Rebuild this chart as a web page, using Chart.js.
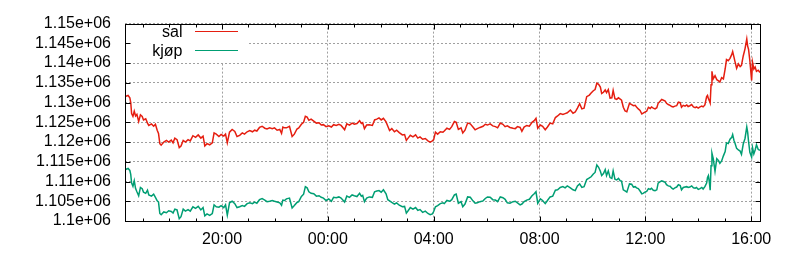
<!DOCTYPE html>
<html>
<head>
<meta charset="utf-8">
<script src="https://cdn.jsdelivr.net/npm/chart.js@4"></script>
<style>
  html, body { margin: 0; padding: 0; background: #fff; }
  #wrap { width: 800px; height: 260px; }
</style>
</head>
<body>
<div id="wrap"><canvas id="chart" width="800" height="260"></canvas></div>
<script>
// readings from 16:20 one day to 16:20 the next (clock wraps at midnight)
const times = [
  "16:20","16:27","16:31","16:33","16:35","16:38","16:41","16:44","16:47","16:51",
  "16:55","16:59","17:02","17:07","17:11","17:14","17:20","17:25","17:29","17:33",
  "17:36","17:39","17:42","17:48","17:54","17:59","18:05","18:09","18:13","18:18",
  "18:23","18:27","18:32","18:37","18:43","18:48","18:54","19:00","19:06","19:12",
  "19:17","19:21","19:26","19:32","19:38","19:42","19:47","19:53","19:58","20:04",
  "20:08","20:12","20:17","20:23","20:29","20:34","20:40","20:46","20:51","20:57",
  "21:03","21:09","21:14","21:19","21:25","21:31","21:37","21:42","21:48","21:54",
  "21:59","22:05","22:11","22:15","22:18","22:22","22:26","22:33","22:39","22:44",
  "22:50","22:54","23:00","23:05","23:09","23:13","23:17","23:22","23:28","23:34",
  "23:40","23:45","23:50","23:56","00:02","00:08","00:13","00:19","00:25","00:30",
  "00:38","00:43","00:49","00:55","01:00","01:06","01:12","01:16","01:19","01:23",
  "01:28","01:34","01:41","01:46","01:51","01:56","02:01","02:06","02:12","02:16",
  "02:20","02:25","02:31","02:36","02:42","02:49","02:54","02:58","03:02","03:07",
  "03:13","03:19","03:24","03:29","03:35","03:41","03:47","03:52","03:57","04:00",
  "04:04","04:09","04:15","04:21","04:24","04:30","04:36","04:41","04:47","04:51",
  "04:56","05:02","05:06","05:11","05:17","05:23","05:29","05:34","05:39","05:45",
  "05:52","05:57","06:02","06:08","06:14","06:20","06:25","06:31","06:37","06:42",
  "06:47","06:53","07:00","07:05","07:10","07:16","07:20","07:25","07:31","07:37",
  "07:43","07:48","07:52","07:56","08:02","08:07","08:13","08:18","08:24","08:30",
  "08:36","08:41","08:47","08:53","08:58","09:03","09:10","09:16","09:21","09:26",
  "09:31","09:36","09:41","09:47","09:53","09:57","10:02","10:06","10:10","10:14",
  "10:18","10:21","10:25","10:29","10:32","10:36","10:40","10:44","10:47","10:51",
  "10:55","10:59","11:03","11:06","11:10","11:14","11:18","11:24","11:29","11:33",
  "11:37","11:40","11:44","11:48","11:52","11:55","11:59","12:03","12:07","12:11",
  "12:14","12:18","12:22","12:26","12:29","12:33","12:37","12:41","12:45","12:48",
  "12:52","12:56","13:00","13:03","13:07","13:11","13:15","13:19","13:22","13:26",
  "13:30","13:34","13:37","13:41","13:45","13:49","13:53","13:56","14:00","14:04",
  "14:08","14:11","14:15","14:19","14:21","14:23","14:25","14:27","14:29","14:31",
  "14:34","14:38","14:42","14:46","14:49","14:53","14:57","15:01","15:04","15:08",
  "15:12","15:16","15:18","15:21","15:23","15:27","15:31","15:35","15:38","15:42",
  "15:46","15:50","15:52","15:54","15:57","16:01","16:03","16:06","16:09","16:12",
  "16:16","16:20"
];

const sal = [
  1131500,1131800,1131200,1130000,1127200,1126500,1127800,1126600,1127000,1125200,
  1126900,1126500,1125600,1125900,1124800,1124200,1124600,1124000,1124500,1123000,
  1122200,1119600,1119200,1120000,1120400,1120000,1120500,1119800,1121000,1120600,
  1118600,1119000,1120400,1120000,1120600,1120300,1121600,1121200,1121800,1121000,
  1121500,1119000,1119600,1119300,1119800,1122300,1122000,1121400,1121900,1121500,
  1122000,1119800,1122500,1123200,1122700,1121400,1121700,1122300,1122000,1122600,
  1122900,1122600,1123000,1122800,1123700,1124000,1123500,1123300,1123600,1123400,
  1123600,1123000,1123200,1122200,1123800,1123600,1123600,1124000,1121400,1122000,
  1123300,1123600,1124500,1125000,1126500,1126300,1125500,1125800,1125300,1124800,
  1124900,1124300,1124400,1123900,1124100,1123800,1124400,1124200,1124500,1124200,
  1123100,1124600,1124300,1124800,1124500,1124700,1125400,1124700,1124900,1123400,
  1124300,1124400,1124200,1125600,1125800,1126100,1125600,1126000,1125100,1124000,
  1122900,1123400,1122600,1123000,1122400,1121800,1121900,1120400,1121000,1121700,
  1121300,1121800,1121000,1121300,1120700,1120900,1120300,1120000,1120300,1120600,
  1122500,1122000,1122600,1122500,1122800,1123500,1123200,1123900,1125200,1125000,
  1123200,1123600,1122300,1123000,1124800,1124600,1123800,1123100,1123400,1123700,
  1124000,1124500,1124300,1124600,1124100,1123900,1123600,1124800,1124500,1123900,
  1124100,1123700,1123500,1123400,1123900,1123700,1122700,1123800,1124200,1124000,
  1125000,1125400,1126000,1123500,1124300,1124000,1123100,1123800,1124800,1124600,
  1126200,1126600,1127200,1127000,1127200,1127400,1128100,1127300,1127600,1128600,
  1129700,1128400,1128600,1131500,1131900,1132400,1133000,1133300,1134900,1134600,
  1133900,1132300,1132600,1133200,1132500,1133300,1131100,1131200,1133100,1131000,
  1130800,1131200,1130900,1130600,1128800,1127900,1127700,1129800,1129500,1129200,
  1129300,1128900,1128400,1128000,1127100,1127300,1127600,1127800,1128800,1128500,
  1128900,1128600,1128400,1128700,1129800,1130300,1130800,1130600,1130400,1129800,
  1129500,1129300,1129000,1128900,1129100,1129200,1130100,1130000,1128800,1129300,
  1129100,1129400,1129000,1129200,1129500,1128900,1128700,1128900,1128600,1128900,
  1129100,1128900,1129400,1131500,1131800,1131000,1130500,1129900,1134500,1137900,
  1136000,1136800,1135800,1135500,1135200,1136300,1136000,1138500,1140900,1140600,
  1141200,1142200,1142900,1141500,1140500,1138700,1139800,1139100,1139400,1141800,
  1143600,1146100,1144300,1143500,1140600,1135600,1140200,1138500,1139000,1137900,
  1138200,1137600
];

const kjop = [
  1113000,1113300,1112800,1111800,1109600,1108800,1110200,1108200,1107400,1106400,
  1108500,1108200,1107300,1107000,1107800,1106600,1106300,1106800,1106000,1105100,
  1104800,1101900,1101600,1102300,1102100,1102600,1102400,1102000,1103000,1102800,
  1100600,1101100,1103000,1102500,1102900,1102500,1103600,1103200,1103700,1102800,
  1103400,1101300,1101800,1101400,1101900,1104100,1103600,1103500,1103900,1103400,
  1104100,1101500,1104600,1105000,1104400,1103400,1103600,1103900,1103700,1104400,
  1104600,1104400,1104800,1104500,1105400,1105700,1105300,1104900,1105000,1105200,
  1105000,1104800,1104600,1104000,1105300,1105200,1105600,1105800,1103300,1103900,
  1104700,1104900,1106200,1106800,1108700,1108400,1107400,1107000,1106900,1106300,
  1106400,1106000,1105800,1105200,1105600,1105000,1106000,1105900,1106100,1105800,
  1104800,1106300,1106000,1106600,1106400,1106200,1107000,1106300,1106500,1104900,
  1105800,1106100,1106000,1107400,1107600,1107700,1107300,1107900,1106900,1105400,
  1105100,1104700,1104300,1104600,1104000,1103600,1103700,1102000,1102600,1103400,
  1103000,1103400,1102700,1102900,1102200,1102500,1101900,1101600,1101800,1102400,
  1103600,1103900,1104400,1104600,1104400,1105200,1105000,1105400,1106600,1106800,
  1104500,1104900,1103600,1104300,1106100,1106000,1105100,1104500,1104600,1104900,
  1105100,1105700,1106100,1106000,1105400,1105300,1104900,1106100,1105900,1105500,
  1104600,1104500,1104900,1105000,1104600,1104100,1104300,1104900,1105300,1105500,
  1106400,1106900,1107400,1104500,1105600,1105200,1104400,1105200,1106100,1106300,
  1107800,1107900,1108500,1108700,1108400,1108900,1108400,1107900,1107700,1108900,
  1109400,1108500,1108700,1110500,1110900,1111200,1111900,1112300,1114200,1113600,
  1112600,1111500,1112000,1113000,1111500,1112700,1111000,1110800,1112700,1110600,
  1110400,1110800,1110200,1110100,1107900,1107600,1107300,1109400,1109300,1108600,
  1108700,1108400,1108200,1107600,1106900,1107000,1107300,1107500,1108200,1108000,
  1108300,1107800,1107700,1107900,1109600,1109900,1110200,1110000,1109800,1109200,
  1108900,1108800,1108300,1108100,1108400,1108600,1109200,1109000,1107900,1108500,
  1108600,1108700,1108500,1108600,1108900,1108400,1108300,1108500,1108000,1108200,
  1108500,1108100,1108700,1109600,1111000,1111500,1110000,1107800,1114000,1117200,
  1115800,1112600,1115800,1115300,1114600,1115200,1116500,1117600,1119800,1119600,
  1120700,1121200,1121900,1120400,1119800,1118400,1118000,1117700,1116900,1119500,
  1120900,1123800,1122500,1120200,1117400,1116200,1118600,1117000,1118000,1119300,
  1118100,1117900
];

const xTickLabels = ["20:00", "00:00", "04:00", "08:00", "12:00", "16:00"];
const yMin = 1100000;
const yMax = 1150000;
const yStep = 5000;

const RED = "#e51e10";
const GREEN = "#009e73";
const GRID = "#a0a0a0";
const FONT = "'Liberation Sans', Arial, sans-serif";
const FONT_SIZE = 16;

// clock strings -> running hours, adding a day whenever the clock goes backwards
const toHours = (list, start) => {
  let day = 0;
  let prev = start;
  return list.map((t) => {
    const [h, m] = t.split(":").map(Number);
    let v = h + m / 60 + day;
    if (v < prev) { day += 24; v += 24; }
    prev = v;
    return v;
  });
};

const hours = toHours(times, -1);
const majorHours = toHours(xTickLabels, hours[0]);
const xMin = hours[0];
const xMax = hours[hours.length - 1];

const pts = (vals) => vals.map((v, i) => ({ x: hours[i], y: v }));

const fmtG = (v) => parseFloat((v / 1e6).toFixed(4)) + "e+06";
const isMajor = (v) => majorHours.some((h) => Math.abs(h - v) < 1e-6);

// gnuplot style key: label left, line sample right, on a white box
const keyBox = {
  id: "keyBox",
  afterDraw(chart) {
    const { ctx, chartArea: a } = chart;
    ctx.save();
    ctx.fillStyle = "#fff";
    ctx.fillRect(a.left + 1, a.top + 1, 123, 38);
    ctx.font = `${FONT_SIZE}px ${FONT}`;
    ctx.fillStyle = "#000";
    ctx.textAlign = "right";
    ctx.textBaseline = "middle";
    [["sal", RED, 31.5], ["kjøp", GREEN, 50.5]].forEach(([txt, col, y]) => {
      ctx.fillText(txt, 182.5, y + 1);
      ctx.strokeStyle = col;
      ctx.lineWidth = 1;
      ctx.beginPath();
      ctx.moveTo(195, y);
      ctx.lineTo(238, y);
      ctx.stroke();
    });
    ctx.restore();
  }
};

// frame with inward tick marks on all four sides
const frame = {
  id: "frame",
  afterDraw(chart) {
    const { ctx, chartArea: a, scales: { x, y } } = chart;
    const L = Math.round(a.left) + 0.5;
    const R = Math.round(a.right) + 0.5;
    const T = Math.round(a.top) + 0.5;
    const B = Math.round(a.bottom) + 0.5;
    ctx.save();
    ctx.strokeStyle = "#000";
    ctx.lineWidth = 1;
    ctx.beginPath();
    x.ticks.forEach((t) => {
      const px = Math.round(x.getPixelForValue(t.value)) + 0.5;
      const len = isMajor(t.value) ? 5 : 3;
      ctx.moveTo(px, B); ctx.lineTo(px, B - len);
      ctx.moveTo(px, T); ctx.lineTo(px, T + len);
    });
    y.ticks.forEach((t) => {
      const py = Math.round(y.getPixelForValue(t.value)) + 0.5;
      ctx.moveTo(L, py); ctx.lineTo(L + 5, py);
      ctx.moveTo(R, py); ctx.lineTo(R - 5, py);
    });
    ctx.stroke();
    ctx.strokeRect(L, T, R - L, B - T);
    ctx.restore();
  }
};

Chart.defaults.font.family = FONT;
Chart.defaults.font.size = FONT_SIZE;
Chart.defaults.color = "#000";

new Chart(document.getElementById("chart").getContext("2d"), {
  type: "line",
  data: {
    datasets: [
      { label: "sal", data: pts(sal), borderColor: RED, borderWidth: 1.5, pointRadius: 0, tension: 0 },
      { label: "kjøp", data: pts(kjop), borderColor: GREEN, borderWidth: 1.5, pointRadius: 0, tension: 0 }
    ]
  },
  options: {
    responsive: false,
    animation: false,
    events: [],
    layout: { padding: { top: 19, right: 40, bottom: 0, left: 0 } },
    plugins: { legend: { display: false }, tooltip: { enabled: false } },
    scales: {
      x: {
        type: "linear",
        min: xMin,
        max: xMax,
        afterBuildTicks: (s) => {
          const ticks = [];
          for (let h = Math.ceil(xMin); h <= Math.floor(xMax); h++) ticks.push({ value: h });
          s.ticks = ticks;
        },
        afterFit: (s) => { s.height = 39; },
        ticks: {
          autoSkip: false,
          maxRotation: 0,
          padding: 9,
          callback: (v) => {
            const i = majorHours.findIndex((h) => Math.abs(h - v) < 1e-6);
            return i >= 0 ? xTickLabels[i] : "";
          }
        },
        grid: {
          drawTicks: false,
          color: (c) => (c.tick && isMajor(c.tick.value) ? GRID : "rgba(0,0,0,0)"),
          lineWidth: 1
        },
        border: { display: false, dash: [2, 2] }
      },
      y: {
        min: yMin,
        max: yMax,
        afterFit: (s) => { s.width = 125; },
        ticks: { stepSize: yStep, autoSkip: false, padding: 14, callback: (v) => fmtG(v) },
        grid: { drawTicks: false, color: GRID, lineWidth: 1 },
        border: { display: false, dash: [2, 2] }
      }
    }
  },
  plugins: [keyBox, frame]
});
</script>
</body>
</html>
